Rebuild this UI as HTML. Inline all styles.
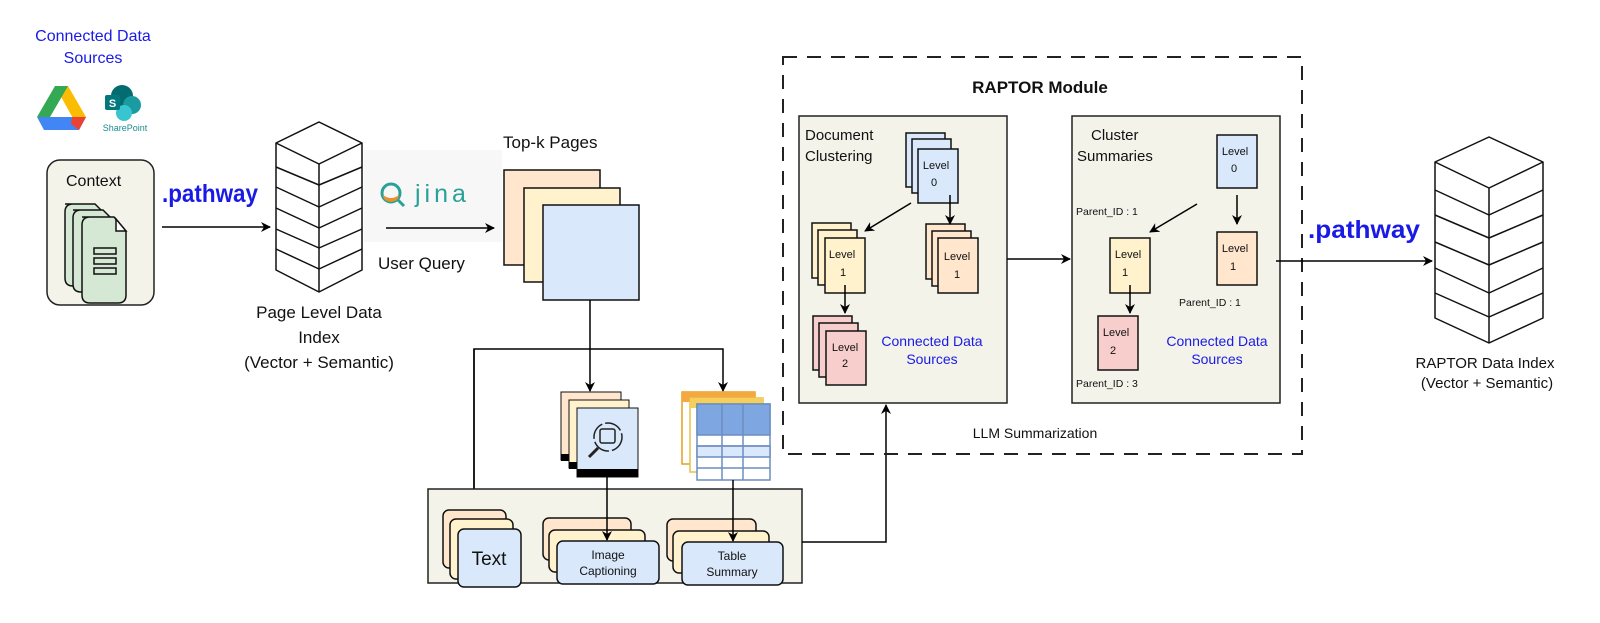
<!DOCTYPE html>
<html><head><meta charset="utf-8"><style>
html,body{margin:0;padding:0;background:#fff;}
svg{display:block;}
text{font-family:"Liberation Sans",sans-serif;fill:#111;}
</style></head><body>
<svg width="1600" height="623" viewBox="0 0 1600 623" xmlns="http://www.w3.org/2000/svg">
<defs>
<marker id="ah" markerWidth="10" markerHeight="10" refX="9" refY="5" orient="auto" markerUnits="userSpaceOnUse"><path d="M0,0 L10,5 L0,10 L3,5 z" fill="#000"/></marker>
</defs>

<!-- Connected data sources top-left -->
<text x="93" y="41" font-size="16" fill="#1a1ae6" text-anchor="middle" style="fill:#1a1ae6">Connected Data</text>
<text x="93" y="63" font-size="16" text-anchor="middle" style="fill:#1a1ae6">Sources</text>
<!-- Drive -->
<polygon points="55,86 68,86 86,117 79,129 " fill="#fbbc04"/>
<polygon points="55,86 68,86 50,117 37,117" fill="#34a853"/>
<polygon points="37,117 86,117 79,130 44,130" fill="#4285f4"/>
<polygon points="72,117 86,117 79,130 71,124" fill="#ea4335"/>
<!-- SharePoint -->
<circle cx="122" cy="96" r="11" fill="#036c70"/>
<circle cx="132" cy="105" r="9" fill="#1a9ba1"/>
<circle cx="124" cy="113" r="8" fill="#37c6d0"/>
<rect x="105" y="95" width="15" height="15" rx="2" fill="#03787c"/>
<text x="112.5" y="107" font-size="11" text-anchor="middle" font-weight="bold" style="fill:#fff">S</text>
<text x="125" y="131" font-size="9" text-anchor="middle" style="fill:#1a8a8e">SharePoint</text>

<!-- Context box -->
<rect x="47" y="160" width="107" height="145" rx="13" fill="#f3f3ea" stroke="#222" stroke-width="1.5"/>
<text x="66" y="186" font-size="16">Context</text>
<g stroke="#111" stroke-width="1.5" fill="#d5e8d4">
<path d="M65,204 h30 l12,12 v62 q0,8 -8,8 h-26 q-8,0 -8,-8 v-66 q0,-8 8,-8 z"/>
<path d="M73,210 h30 l12,12 v62 q0,8 -8,8 h-26 q-8,0 -8,-8 v-66 q0,-8 8,-8 z"/>
<path d="M82,217 h32 l12,14 v64 q0,8 -8,8 h-28 q-8,0 -8,-8 v-70 q0,-8 8,-8 z"/>
<path d="M126,231 h-10 v-12 z" fill="#fff"/>
<rect x="94" y="248" width="22" height="6" fill="none"/>
<rect x="94" y="258" width="22" height="6" fill="none"/>
<rect x="94" y="268" width="22" height="6" fill="none"/>
</g>

<!-- pathway 1 -->
<text x="162" y="202" font-size="25" font-weight="bold" style="fill:#1a1ae6" textLength="96" lengthAdjust="spacingAndGlyphs">.pathway</text>
<line x1="162" y1="227" x2="270" y2="227" stroke="#000" stroke-width="1.5" marker-end="url(#ah)"/>

<!-- DB1 -->
<g stroke="#111" stroke-width="1.5" fill="#fff" stroke-linejoin="round">
<path d="M276,143 L319,122 L362,143 L362,270 L319,292 L276,270 Z"/>
<path d="M276,143 L319,164 L362,143" fill="none"/>
<line x1="319" y1="164" x2="319" y2="292"/>
<path d="M276,167 L319,185 L362,167" fill="none"/>
<path d="M276,187 L319,207 L362,187" fill="none"/>
<path d="M276,208 L319,228 L362,208" fill="none"/>
<path d="M276,229 L319,248 L362,229" fill="none"/>
<path d="M276,249 L319,269 L362,249" fill="none"/>
</g>
<text x="319" y="318" font-size="17" text-anchor="middle">Page Level Data</text>
<text x="319" y="343" font-size="17" text-anchor="middle">Index</text>
<text x="319" y="368" font-size="17" text-anchor="middle">(Vector + Semantic)</text>

<!-- jina -->
<rect x="364" y="150" width="138" height="92" fill="#f7f7f7"/>
<circle cx="391" cy="193" r="9" fill="none" stroke="#2aa198" stroke-width="3"/>
<path d="M383,195 q8,6 16,0 q0,6 -8,7 q-8,-1 -8,-7z" fill="#e8912a"/>
<line x1="398" y1="200" x2="404" y2="206" stroke="#2aa198" stroke-width="3"/>
<text x="415" y="202" font-size="25" style="fill:#2aa198" letter-spacing="4">jina</text>
<line x1="386" y1="228" x2="494" y2="228" stroke="#000" stroke-width="1.5" marker-end="url(#ah)"/>
<text x="378" y="269" font-size="17">User Query</text>

<!-- Top-k pages -->
<text x="503" y="148" font-size="17">Top-k Pages</text>
<rect x="504" y="170" width="96" height="95" fill="#ffe6cc" stroke="#111" stroke-width="1.5"/>
<rect x="524" y="188" width="96" height="94" fill="#fff2cc" stroke="#111" stroke-width="1.5"/>
<rect x="543" y="205" width="96" height="95" fill="#dae8fc" stroke="#111" stroke-width="1.5"/>

<!-- connectors from pages -->
<g stroke="#000" stroke-width="1.5" fill="none">
<line x1="590" y1="300" x2="590" y2="391" marker-end="url(#ah)"/>
<polyline points="474,507 474,349 723,349 723,391" marker-end="url(#ah)" marker-start="none"/>
</g>
<line x1="474" y1="349" x2="474" y2="506" stroke="#000" stroke-width="1.5" marker-end="url(#ah)"/>

<!-- image icon stack -->
<rect x="561" y="392" width="60" height="68" fill="#ffe6cc" stroke="#111" stroke-width="1"/>
<rect x="561" y="454" width="60" height="7" fill="#000"/>
<rect x="569" y="400" width="60" height="68" fill="#fff2cc" stroke="#111" stroke-width="1"/>
<rect x="569" y="462" width="60" height="7" fill="#000"/>
<rect x="577" y="408" width="61" height="69" fill="#dae8fc" stroke="#111" stroke-width="1"/>
<rect x="577" y="469" width="61" height="8" fill="#000"/>
<circle cx="608" cy="437" r="14" fill="none" stroke="#222" stroke-width="1.5" stroke-dasharray="18 3"/>
<rect x="600" y="429" width="15" height="14" rx="2" fill="none" stroke="#222" stroke-width="1.5"/>
<line x1="598" y1="448" x2="589" y2="457" stroke="#222" stroke-width="3"/>

<!-- table icon -->
<rect x="682" y="392" width="73" height="72" fill="#fff" stroke="#e6a01f" stroke-width="1.5"/>
<rect x="682" y="392" width="73" height="10" fill="#f5a742"/>
<rect x="690" y="398" width="73" height="74" fill="#fff" stroke="#e6c04a" stroke-width="1.5"/>
<rect x="690" y="398" width="73" height="10" fill="#f5cf5a"/>
<g stroke="#6c8ebf" stroke-width="1.5">
<rect x="697" y="404" width="73" height="76" fill="#fff"/>
<rect x="697" y="404" width="73" height="31" fill="#7ea6e0"/>
<rect x="697" y="446" width="73" height="11" fill="#dae8fc"/>
<line x1="697" y1="446" x2="770" y2="446"/>
<line x1="697" y1="468" x2="770" y2="468"/>
<line x1="722" y1="404" x2="722" y2="480"/>
<line x1="743" y1="404" x2="743" y2="480"/>
</g>

<!-- bottom box -->
<rect x="428" y="489" width="374" height="94" fill="#f3f3ea" stroke="#222" stroke-width="1.5"/>
<g stroke="#111" stroke-width="1.5">
<rect x="443" y="510" width="63" height="58" rx="6" fill="#ffe6cc"/>
<rect x="450" y="519" width="63" height="60" rx="6" fill="#fff2cc"/>
<rect x="458" y="529" width="63" height="58" rx="6" fill="#dae8fc"/>
<rect x="543" y="518" width="88" height="42" rx="6" fill="#ffe6cc"/>
<rect x="549" y="530" width="96" height="42" rx="6" fill="#fff2cc"/>
<rect x="557" y="541" width="102" height="43" rx="6" fill="#dae8fc"/>
<rect x="667" y="519" width="89" height="42" rx="6" fill="#ffe6cc"/>
<rect x="673" y="531" width="96" height="42" rx="6" fill="#fff2cc"/>
<rect x="682" y="542" width="101" height="43" rx="6" fill="#dae8fc"/>
</g>
<text x="489" y="565" font-size="19" text-anchor="middle">Text</text>
<text x="608" y="559" font-size="12" text-anchor="middle">Image</text>
<text x="608" y="575" font-size="12" text-anchor="middle">Captioning</text>
<text x="732" y="560" font-size="12" text-anchor="middle">Table</text>
<text x="732" y="576" font-size="12" text-anchor="middle">Summary</text>
<line x1="607" y1="477" x2="607" y2="540" stroke="#000" stroke-width="1.5" marker-end="url(#ah)"/>
<line x1="733" y1="480" x2="733" y2="541" stroke="#000" stroke-width="1.5" marker-end="url(#ah)"/>
<polyline points="802,542 886,542 886,405" fill="none" stroke="#000" stroke-width="1.5" marker-end="url(#ah)"/>

<!-- RAPTOR dashed box -->
<rect x="783" y="57" width="519" height="397" fill="none" stroke="#222" stroke-width="2" stroke-dasharray="14 10"/>
<text x="1040" y="93" font-size="17" font-weight="bold" text-anchor="middle">RAPTOR Module</text>

<!-- Document clustering -->
<rect x="799" y="116" width="208" height="287" fill="#f3f3ea" stroke="#222" stroke-width="1.5"/>
<text x="805" y="140" font-size="15">Document</text>
<text x="805" y="161" font-size="15">Clustering</text>
<g stroke="#111" stroke-width="1.5">
<rect x="906" y="133" width="39" height="54" fill="#dae8fc"/>
<rect x="912" y="139" width="39" height="54" fill="#dae8fc"/>
<rect x="918" y="149" width="40" height="54" fill="#dae8fc"/>
<rect x="812" y="223" width="39" height="55" fill="#fff2cc"/>
<rect x="818" y="230" width="39" height="55" fill="#fff2cc"/>
<rect x="825" y="238" width="40" height="55" fill="#fff2cc"/>
<rect x="926" y="224" width="39" height="55" fill="#ffe6cc"/>
<rect x="932" y="231" width="39" height="55" fill="#ffe6cc"/>
<rect x="938" y="238" width="40" height="55" fill="#ffe6cc"/>
<rect x="813" y="316" width="39" height="54" fill="#f8cecc"/>
<rect x="819" y="323" width="39" height="54" fill="#f8cecc"/>
<rect x="826" y="331" width="40" height="54" fill="#f8cecc"/>
</g>
<g font-size="11" text-anchor="middle">
<text x="936" y="169">Level</text><text x="934" y="186">0</text>
<text x="842" y="258">Level</text><text x="843" y="276">1</text>
<text x="957" y="260">Level</text><text x="957" y="278">1</text>
<text x="845" y="351">Level</text><text x="845" y="367">2</text>
</g>
<g stroke="#000" stroke-width="1.5">
<line x1="911" y1="203" x2="865" y2="231" marker-end="url(#ah)"/>
<line x1="950" y1="195" x2="950" y2="224" marker-end="url(#ah)"/>
<line x1="845" y1="285" x2="845" y2="313" marker-end="url(#ah)"/>
</g>
<text x="932" y="346" font-size="14" text-anchor="middle" style="fill:#1a1ae6">Connected Data</text>
<text x="932" y="364" font-size="14" text-anchor="middle" style="fill:#1a1ae6">Sources</text>

<line x1="1007" y1="259" x2="1070" y2="259" stroke="#000" stroke-width="1.5" marker-end="url(#ah)"/>

<!-- Cluster summaries -->
<rect x="1072" y="116" width="208" height="287" fill="#f3f3ea" stroke="#222" stroke-width="1.5"/>
<text x="1091" y="140" font-size="15">Cluster</text>
<text x="1077" y="161" font-size="15">Summaries</text>
<g stroke="#111" stroke-width="1.5">
<rect x="1217" y="135" width="40" height="53" fill="#dae8fc"/>
<rect x="1110" y="238" width="40" height="55" fill="#fff2cc"/>
<rect x="1217" y="232" width="40" height="53" fill="#ffe6cc"/>
<rect x="1098" y="316" width="40" height="54" fill="#f8cecc"/>
</g>
<g font-size="11" text-anchor="middle">
<text x="1235" y="155">Level</text><text x="1234" y="172">0</text>
<text x="1128" y="258">Level</text><text x="1125" y="276">1</text>
<text x="1235" y="252">Level</text><text x="1233" y="270">1</text>
<text x="1116" y="336">Level</text><text x="1113" y="354">2</text>
</g>
<g stroke="#000" stroke-width="1.5">
<line x1="1237" y1="195" x2="1237" y2="224" marker-end="url(#ah)"/>
<line x1="1197" y1="204" x2="1150" y2="232" marker-end="url(#ah)"/>
<line x1="1130" y1="285" x2="1130" y2="313" marker-end="url(#ah)"/>
</g>
<g font-size="10.5">
<text x="1076" y="215">Parent_ID : 1</text>
<text x="1179" y="306">Parent_ID : 1</text>
<text x="1076" y="387">Parent_ID : 3</text>
</g>
<text x="1217" y="346" font-size="14" text-anchor="middle" style="fill:#1a1ae6">Connected Data</text>
<text x="1217" y="364" font-size="14" text-anchor="middle" style="fill:#1a1ae6">Sources</text>

<text x="1035" y="438" font-size="14" text-anchor="middle">LLM Summarization</text>

<!-- pathway 2 -->
<text x="1308" y="238" font-size="25" font-weight="bold" style="fill:#1a1ae6" textLength="112" lengthAdjust="spacingAndGlyphs">.pathway</text>
<line x1="1276" y1="261" x2="1432" y2="261" stroke="#000" stroke-width="1.5" marker-end="url(#ah)"/>

<!-- DB2 -->
<g stroke="#111" stroke-width="1.5" fill="#fff" stroke-linejoin="round">
<path d="M1435,162 L1489,137 L1543,162 L1543,318 L1489,343 L1435,318 Z"/>
<path d="M1435,162 L1489,188 L1543,162" fill="none"/>
<line x1="1489" y1="188" x2="1489" y2="343"/>
<path d="M1435,190 L1489,215 L1543,190" fill="none"/>
<path d="M1435,215 L1489,238 L1543,215" fill="none"/>
<path d="M1435,242 L1489,265 L1543,242" fill="none"/>
<path d="M1435,268 L1489,293 L1543,268" fill="none"/>
<path d="M1435,293 L1489,317 L1543,293" fill="none"/>
</g>
<text x="1485" y="368" font-size="15" text-anchor="middle">RAPTOR Data Index</text>
<text x="1487" y="388" font-size="15" text-anchor="middle">(Vector + Semantic)</text>
</svg>
</body></html>
